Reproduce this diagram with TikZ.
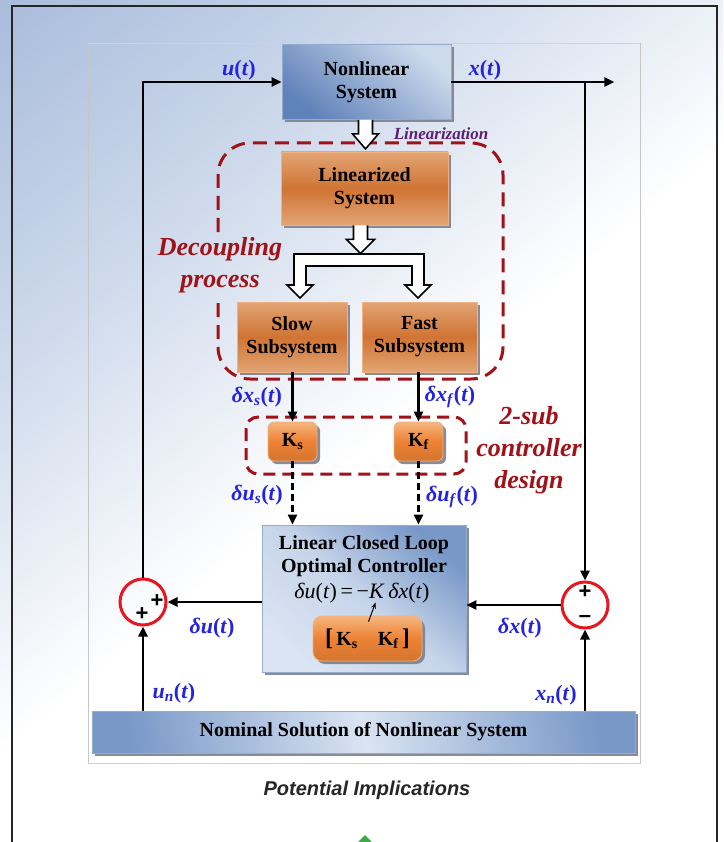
\documentclass[tikz,border=0pt]{standalone}
\usepackage{fontspec}
\setmainfont{Liberation Serif}
\newfontfamily\sansfont{Liberation Sans}
\usetikzlibrary{arrows.meta,shadows,calc}

\definecolor{bgblue}{RGB}{168,188,220}
\definecolor{nsdark}{RGB}{96,130,186}
\definecolor{nslight}{RGB}{205,218,236}
\definecolor{lcdark}{RGB}{120,152,200}
\definecolor{lclight}{RGB}{218,228,242}
\definecolor{boxedge}{RGB}{150,172,205}
\definecolor{shadowgray}{RGB}{125,128,140}
\definecolor{ordark}{RGB}{208,116,52}
\definecolor{orlight}{RGB}{226,164,116}
\definecolor{oredge}{RGB}{238,178,132}
\definecolor{kor}{RGB}{236,130,52}
\definecolor{korlight}{RGB}{246,182,128}
\definecolor{dred}{RGB}{160,18,24}
\definecolor{lblue}{RGB}{35,35,225}
\definecolor{lpurple}{RGB}{92,30,110}
\definecolor{sumred}{RGB}{232,22,32}
\definecolor{upgreen}{RGB}{60,170,70}

\newcommand{\boxfont}{\bfseries\fontsize{20}{23}\selectfont}

\tikzset{
  boxshadow/.style={drop shadow={shadow xshift=3pt,shadow yshift=-3pt,fill=shadowgray,opacity=0.9}},
  bluebox/.style={draw=boxedge, line width=0.8pt, inner sep=0pt, align=center,
    font=\boxfont, boxshadow, top color=nslight, bottom color=nsdark, shading angle=-40},
  lcbox/.style={bluebox, top color=lcdark, bottom color=lclight, middle color=lclight!80!lcdark, shading angle=-40},
  orbox/.style={draw=oredge, line width=0.8pt, inner sep=0pt, align=center,
    font=\boxfont, boxshadow, top color=orlight, bottom color=orlight, middle color=ordark},
  kbox/.style={orbox, rounded corners=6pt, top color=korlight, bottom color=kor!90!black, middle color=kor},
  flow/.style={line width=2.6pt, -{Triangle[length=10pt,width=9pt]}},
  hollow/.style={draw=black, fill=white, line width=1.6pt, line join=miter},
  group/.style={draw=dred, line width=3pt, dash pattern=on 14pt off 8pt},
  lab/.style={text=lblue, font=\bfseries\fontsize{22}{24}\selectfont, inner sep=0pt},
  redlab/.style={text=dred, font=\bfseries\itshape\fontsize{26}{32}\selectfont, align=center, inner sep=0pt},
  sum/.style={circle, draw=sumred, line width=3pt, minimum size=46pt, inner sep=0pt},
  sign/.style={font=\sansfont\bfseries\fontsize{22}{22}\selectfont, inner sep=0pt}
}

\begin{document}
\begin{tikzpicture}[x=1pt,y=-1pt]
\useasboundingbox (0,0) rectangle (723,842);
% background
\begin{scope}
\clip (0,0) rectangle (723,842);
\fill[white] (0,0) rectangle (723,842);
\begin{scope}[transform canvas={rotate=-50}]
\shade[left color=bgblue, right color=white, middle color=bgblue!55!white] (0,-1300) rectangle (580,1300);
\end{scope}
\draw[line width=1.8pt, black!85] (12,6) rectangle (717,870);
\end{scope}
\draw[gray!45, line width=0.6pt] (88,43) rectangle (640,763);
\draw[red!25, line width=0.6pt] (88,43) -- (640,43) (88,763) -- (640,763);

% blocks
\node[bluebox, minimum width=169pt, minimum height=75pt] (ns) at (366.5,82) {Nonlinear\\System};
\node[orbox, minimum width=167pt, minimum height=73pt] (lin) at (364.5,188.5) {Linearized\\System};
\node[orbox, minimum width=110pt, minimum height=70pt] (slow) at (292,337) {Slow\\Subsystem};
\node[orbox, minimum width=115pt, minimum height=70pt] (fast) at (419.5,337) {Fast\\Subsystem};
\node[kbox, minimum width=49pt, minimum height=39pt] (ks) at (292.5,441.5) {K\textsubscript{s}};
\node[kbox, minimum width=49pt, minimum height=39pt] (kf) at (418.5,441.5) {K\textsubscript{f}};
\node[lcbox, minimum width=204pt, minimum height=147pt] (lcl) at (364,598.5) {};
\node[font=\boxfont, align=center, inner sep=0pt] (lcltitle) at (364,556.5) {Linear Closed Loop\\Optimal Controller};
\node[font=\fontsize{22}{24}\selectfont, inner sep=0pt] (law) at (362,593)
  {\textit{δu}(\textit{t})\,=\,−\textit{K}\,\textit{δx}(\textit{t})};
\node[kbox, rounded corners=9pt, minimum width=109pt, minimum height=45pt] (kk) at (367.5,638.5)
  {{\fontsize{24}{24}\selectfont[}\,K\textsubscript{s}\quad K\textsubscript{f}\,{\fontsize{24}{24}\selectfont]}};
\node[bluebox, minimum width=543pt, minimum height=42pt, top color=lcdark, bottom color=lcdark, middle color=lclight, shading angle=-80] (nom) at (363.5,732) {Nominal Solution of Nonlinear System};
\node[sum] (sl) at (143,602) {};
\node[sum] (sr) at (585,605) {};
\node[sign] at ($(sl)+(14,-1)$) {+};
\node[sign] at ($(sl)+(-1,12)$) {+};
\node[sign] at ($(sr)+(0,-13)$) {+};
\node[sign] at ($(sr)+(0,14)$) {–};

% dashed groups
\draw[group, rounded corners=32pt] (218,232) -- (218,143) -- (503,143) -- (503,379) -- (218,379) -- (218,298);
\draw[group, dash pattern=on 12pt off 7pt, rounded corners=12pt] (246,417) rectangle (466,474);

% hollow arrows
\draw[hollow] ([xshift=-8pt]ns.south) -- ++(0,14) -- ++(-6,0) -- ++(13,15) -- ++(13,-15) -- ++(-6,0) -- ++(0,-14);
\draw[hollow] ([xshift=-11pt]lin.south) -- ++(0,14) -- ++(-7,0) -- ++(14,14) -- ++(14,-14) -- ++(-7,0) -- ++(0,-14);
\draw[hollow] (294,254) -- (424,254) -- (424,285) -- (431,285) -- (418,298) -- (405,285) -- (412,285)
  -- (412,266) -- (306,266) -- (306,285) -- (313,285) -- (300,298) -- (287,285) -- (294,285) -- cycle;

% signal lines
\coordinate (xend) at ($(ns.east)+(163,0)$);
\draw[flow] (sl.north) |- (ns.west);
\draw[flow] (ns.east) -- (xend);
\draw[flow] (ns.east -| sr.north) -- (sr.north);
\draw[flow] (ks.north |- slow.south) -- (ks.north);
\draw[flow] (kf.north |- fast.south) -- (kf.north);
\draw[flow, dash pattern=on 7pt off 4pt] (ks.south) -- (ks.south |- lcl.north);
\draw[flow, dash pattern=on 7pt off 4pt] (kf.south) -- (kf.south |- lcl.north);
\draw[flow] (sl.east -| lcl.west) -- (sl.east);
\draw[flow] (sr.west) -- (sr.west -| lcl.east);
\draw[flow] (sl.south |- nom.north) -- (sl.south);
\draw[flow] (sr.south |- nom.north) -- (sr.south);
\draw[line width=1pt, -{Stealth[length=6pt,width=5pt]}] ([xshift=1pt,yshift=-6pt]kk.north) -- ++(7,-19);

% labels
\node[lab] (ulab) at (239,70) {\textit{u}(\textit{t})};
\node[lab] (xlab) at (485,70) {\textit{x}(\textit{t})};
\node[text=lpurple, font=\bfseries\itshape\fontsize{17}{20}\selectfont] (linlab) at (441,134) {Linearization};
\node[redlab] (declab) at (220,265) {Decoupling\\process};
\node[redlab] (conlab) at (529,450) {2-sub\\controller\\design};
\node[lab] (dxslab) at (257,397) {\textit{δx}\textsubscript{\textit{s}}(\textit{t})};
\node[lab] (dxflab) at (450,397) {\textit{δx}\textsubscript{\textit{f}}(\textit{t})};
\node[lab] (duslab) at (257,495) {\textit{δu}\textsubscript{\textit{s}}(\textit{t})};
\node[lab] (duflab) at (452,497) {\textit{δu}\textsubscript{\textit{f}}(\textit{t})};
\node[lab] (dulab) at (212,628) {\textit{δu}(\textit{t})};
\node[lab] (dxlab) at (520,628) {\textit{δx}(\textit{t})};
\node[lab] (unlab) at (174,693) {\textit{u}\textsubscript{\textit{n}}(\textit{t})};
\node[lab] (xnlab) at (556,695) {\textit{x}\textsubscript{\textit{n}}(\textit{t})};

% caption
\node[font=\sansfont\bfseries\itshape\fontsize{20}{24}\selectfont, text=black!85] (cap) at (367,790) {Potential Implications};
\fill[upgreen] (365,835) -- (355,845) -- (375,845) -- cycle;
\end{tikzpicture}
\end{document}
